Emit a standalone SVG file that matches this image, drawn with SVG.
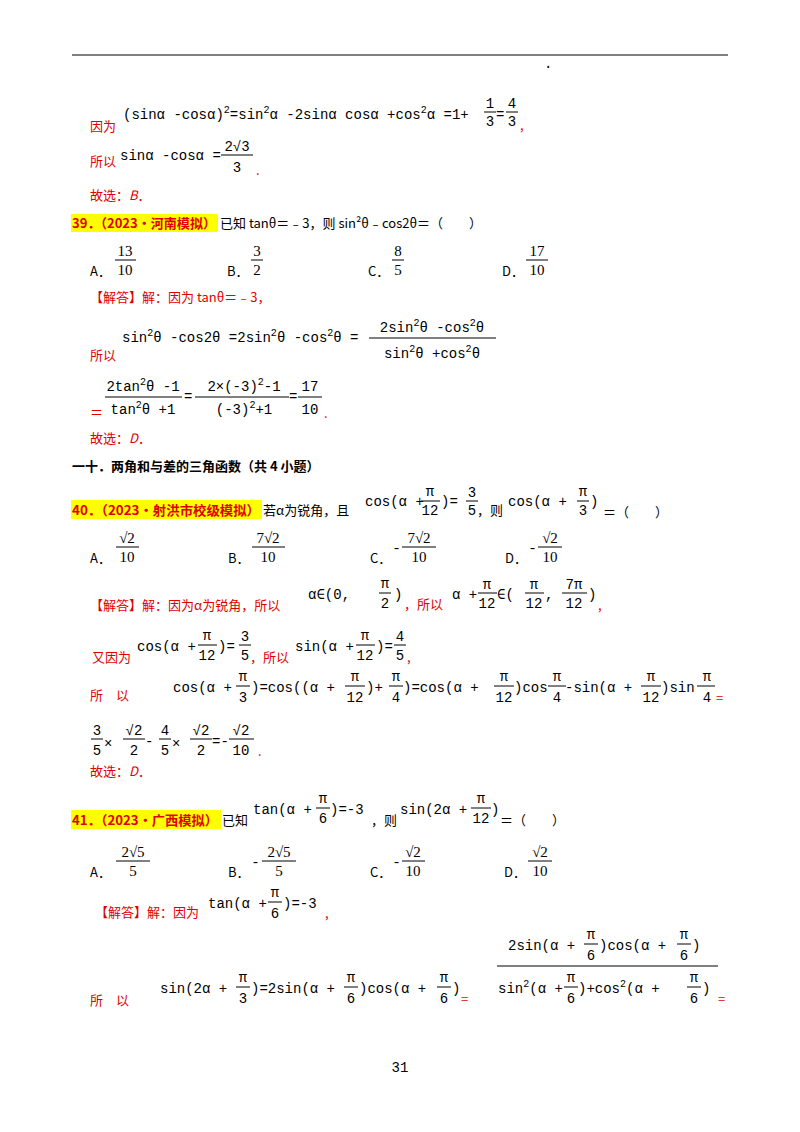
<svg xmlns="http://www.w3.org/2000/svg" width="800" height="1132" viewBox="0 0 800 1132">
<style>
.c{font-family:"Noto Sans CJK SC",sans-serif;font-size:13px;fill:#000}
.r{font-family:"Noto Sans CJK SC",sans-serif;font-size:13px;fill:#e00000}
.h{font-family:"Noto Sans CJK SC",sans-serif;font-size:13px;fill:#e00000;font-weight:bold}
.m{font-family:"Liberation Mono","DejaVu Sans Mono",monospace;font-size:14px;fill:#000}
.o{font-family:"Liberation Serif",serif;font-size:15px;fill:#000}
.s{font-size:10px}
.fl{stroke:#000;stroke-width:1}
.hl{fill:#ffff00}
</style>
<rect width="800" height="1132" fill="#fff"/>
<line x1="72" y1="55" x2="728" y2="55" stroke="#000" stroke-width="1.2"/>
<text x="544" y="68" class="m" font-size="6">.</text>

<g id="p1">
<text x="90" y="131" class="r">因为</text>
<text x="123" y="119" class="m">(sinα -cosα)<tspan class="s" dy="-6">2</tspan><tspan dy="6">=sin</tspan><tspan class="s" dy="-6">2</tspan><tspan dy="6">α -2sinα cosα +cos</tspan><tspan class="s" dy="-6">2</tspan><tspan dy="6">α =1+</tspan></text>
<text x="490" y="108" class="m" text-anchor="middle">1</text><line x1="484" y1="112" x2="496" y2="112" class="fl"/><text x="490" y="126" class="m" text-anchor="middle">3</text>
<text x="496" y="119" class="m">=</text>
<text x="512" y="108" class="m" text-anchor="middle">4</text><line x1="506" y1="112" x2="518" y2="112" class="fl"/><text x="512" y="126" class="m" text-anchor="middle">3</text>
<text x="520" y="130" class="r">,</text>
<text x="90" y="166" class="r">所以</text>
<text x="120" y="160" class="m">sinα -cosα =</text>
<text x="237" y="151" class="m" text-anchor="middle">2√3</text><line x1="221" y1="155" x2="253" y2="155" class="fl"/><text x="237" y="172" class="m" text-anchor="middle">3</text>
<text x="256" y="175" class="r">.</text>
<text x="90" y="200" class="r">故选：<tspan font-style="italic">B</tspan>．</text>
</g>

<g id="q39">
<rect x="71" y="214" width="147" height="18" class="hl"/>
<text x="72" y="228" class="h" textLength="144" lengthAdjust="spacingAndGlyphs">39．（2023•河南模拟）</text>
<text x="220" y="228" class="c" textLength="262" lengthAdjust="spacingAndGlyphs">已知 tanθ＝﹣3，则 sin²θ﹣cos2θ＝（　　）</text>
<text x="90" y="276" class="c">A．</text><text x="125" y="256" class="o" text-anchor="middle">13</text><line x1="115" y1="260" x2="136" y2="260" class="fl"/><text x="125" y="275" class="o" text-anchor="middle">10</text>
<text x="227" y="276" class="c">B．</text><text x="257" y="256" class="o" text-anchor="middle">3</text><line x1="251" y1="260" x2="263" y2="260" class="fl"/><text x="257" y="275" class="o" text-anchor="middle">2</text>
<text x="368" y="276" class="c">C．</text><text x="398" y="256" class="o" text-anchor="middle">8</text><line x1="392" y1="260" x2="404" y2="260" class="fl"/><text x="398" y="275" class="o" text-anchor="middle">5</text>
<text x="502" y="276" class="c">D．</text><text x="537" y="256" class="o" text-anchor="middle">17</text><line x1="526" y1="260" x2="548" y2="260" class="fl"/><text x="537" y="275" class="o" text-anchor="middle">10</text>
<text x="90" y="302" class="r">【解答】解：因为 tanθ＝﹣3，</text>
<text x="90" y="360" class="r">所以</text>
<text x="122" y="342" class="m">sin<tspan class="s" dy="-6">2</tspan><tspan dy="6">θ -cos2θ =2sin</tspan><tspan class="s" dy="-6">2</tspan><tspan dy="6">θ -cos</tspan><tspan class="s" dy="-6">2</tspan><tspan dy="6">θ =</tspan></text>
<text x="432" y="332" class="m" text-anchor="middle">2sin<tspan class="s" dy="-6">2</tspan><tspan dy="6">θ -cos</tspan><tspan class="s" dy="-6">2</tspan><tspan dy="6">θ</tspan></text>
<line x1="369" y1="338" x2="496" y2="338" class="fl"/>
<text x="432" y="358" class="m" text-anchor="middle">sin<tspan class="s" dy="-6">2</tspan><tspan dy="6">θ +cos</tspan><tspan class="s" dy="-6">2</tspan><tspan dy="6">θ</tspan></text>
<text x="90" y="417" class="r">＝</text>
<text x="143" y="391" class="m" text-anchor="middle">2tan<tspan class="s" dy="-6">2</tspan><tspan dy="6">θ -1</tspan></text>
<line x1="105" y1="397" x2="182" y2="397" class="fl"/>
<text x="143" y="414" class="m" text-anchor="middle">tan<tspan class="s" dy="-6">2</tspan><tspan dy="6">θ +1</tspan></text>
<text x="184" y="401" class="m">=</text>
<text x="244" y="391" class="m" text-anchor="middle">2×(-3)<tspan class="s" dy="-6">2</tspan><tspan dy="6">-1</tspan></text>
<line x1="195" y1="397" x2="289" y2="397" class="fl"/>
<text x="244" y="414" class="m" text-anchor="middle">(-3)<tspan class="s" dy="-6">2</tspan><tspan dy="6">+1</tspan></text>
<text x="289" y="401" class="m">=</text>
<text x="310" y="391" class="m" text-anchor="middle">17</text><line x1="298" y1="397" x2="322" y2="397" class="fl"/><text x="310" y="414" class="m" text-anchor="middle">10</text>
<text x="324" y="418" class="r">.</text>
<text x="90" y="443" class="r">故选：<tspan font-style="italic">D</tspan>．</text>
</g>

<text x="72" y="471" class="c" font-weight="bold">一十．两角和与差的三角函数（共 4 小题）</text>

<g id="q40">
<rect x="71" y="500" width="191" height="19" class="hl"/>
<text x="72" y="515" class="h" textLength="188" lengthAdjust="spacingAndGlyphs">40．（2023•射洪市校级模拟）</text>
<text x="263" y="515" class="c">若α为锐角，且</text>
<text x="365" y="506" class="m">cos(α +</text><text x="430" y="496" class="m" text-anchor="middle">π</text><line x1="421" y1="501" x2="440" y2="501" class="fl"/><text x="430" y="515" class="m" text-anchor="middle">12</text>
<text x="441" y="506" class="m">)=</text><text x="472" y="497" class="m" text-anchor="middle">3</text><line x1="466" y1="501" x2="478" y2="501" class="fl"/><text x="472" y="515" class="m" text-anchor="middle">5</text>
<text x="477" y="515" class="c">，则</text>
<text x="508" y="506" class="m">cos(α +</text><text x="583" y="496" class="m" text-anchor="middle">π</text><line x1="577" y1="501" x2="589" y2="501" class="fl"/><text x="583" y="515" class="m" text-anchor="middle">3</text>
<text x="590" y="506" class="m">)</text><text x="603" y="517" class="c">＝（　　）</text>
<text x="90" y="563" class="c">A．</text><text x="127" y="543" class="o" text-anchor="middle">√2</text><line x1="116" y1="547" x2="139" y2="547" class="fl"/><text x="127" y="562" class="o" text-anchor="middle">10</text>
<text x="228" y="563" class="c">B．</text><text x="268" y="543" class="o" text-anchor="middle">7√2</text><line x1="252" y1="547" x2="285" y2="547" class="fl"/><text x="268" y="562" class="o" text-anchor="middle">10</text>
<text x="370" y="563" class="c">C．</text><text x="394" y="552" class="o">-</text><text x="419" y="543" class="o" text-anchor="middle">7√2</text><line x1="402" y1="547" x2="436" y2="547" class="fl"/><text x="419" y="562" class="o" text-anchor="middle">10</text>
<text x="505" y="563" class="c">D．</text><text x="530" y="552" class="o">-</text><text x="550" y="543" class="o" text-anchor="middle">√2</text><line x1="538" y1="547" x2="562" y2="547" class="fl"/><text x="550" y="562" class="o" text-anchor="middle">10</text>
<text x="90" y="610" class="r">【解答】解：因为α为锐角，所以</text>
<text x="308" y="599" class="m">α∈(0,</text><text x="385" y="588" class="m" text-anchor="middle">π</text><line x1="379" y1="593" x2="391" y2="593" class="fl"/><text x="385" y="608" class="m" text-anchor="middle">2</text><text x="394" y="599" class="m">)</text>
<text x="404" y="609" class="r">，所以</text>
<text x="452" y="599" class="m">α +</text><text x="487" y="589" class="m" text-anchor="middle">π</text><line x1="478" y1="593" x2="497" y2="593" class="fl"/><text x="487" y="608" class="m" text-anchor="middle">12</text>
<text x="497" y="599" class="m">∈(</text><text x="534" y="589" class="m" text-anchor="middle">π</text><line x1="525" y1="593" x2="544" y2="593" class="fl"/><text x="534" y="608" class="m" text-anchor="middle">12</text>
<text x="545" y="599" class="m">,</text><text x="574" y="589" class="m" text-anchor="middle">7π</text><line x1="562" y1="593" x2="587" y2="593" class="fl"/><text x="574" y="608" class="m" text-anchor="middle">12</text>
<text x="588" y="599" class="m">)</text><text x="598" y="610" class="r">,</text>
<text x="92" y="662" class="r">又因为</text>
<text x="137" y="651" class="m">cos(α +</text><text x="207" y="640" class="m" text-anchor="middle">π</text><line x1="198" y1="645" x2="217" y2="645" class="fl"/><text x="207" y="660" class="m" text-anchor="middle">12</text>
<text x="218" y="651" class="m">)=</text><text x="245" y="641" class="m" text-anchor="middle">3</text><line x1="239" y1="645" x2="251" y2="645" class="fl"/><text x="245" y="660" class="m" text-anchor="middle">5</text>
<text x="250" y="662" class="r">，所以</text>
<text x="295" y="651" class="m">sin(α +</text><text x="365" y="640" class="m" text-anchor="middle">π</text><line x1="356" y1="645" x2="375" y2="645" class="fl"/><text x="365" y="660" class="m" text-anchor="middle">12</text>
<text x="376" y="651" class="m">)=</text><text x="400" y="641" class="m" text-anchor="middle">4</text><line x1="394" y1="645" x2="406" y2="645" class="fl"/><text x="400" y="660" class="m" text-anchor="middle">5</text>
<text x="407" y="662" class="r">,</text>
<text x="90" y="700" class="r">所　以</text>
<text x="173" y="692" class="m">cos(α +</text><text x="243" y="681" class="m" text-anchor="middle">π</text><line x1="236" y1="686" x2="250" y2="686" class="fl"/><text x="243" y="702" class="m" text-anchor="middle">3</text>
<text x="251" y="692" class="m">)=cos((α +</text><text x="355" y="681" class="m" text-anchor="middle">π</text><line x1="345" y1="686" x2="365" y2="686" class="fl"/><text x="355" y="702" class="m" text-anchor="middle">12</text>
<text x="366" y="692" class="m">)+</text><text x="396" y="681" class="m" text-anchor="middle">π</text><line x1="389" y1="686" x2="403" y2="686" class="fl"/><text x="396" y="702" class="m" text-anchor="middle">4</text>
<text x="403" y="692" class="m">)=cos(α +</text><text x="504" y="681" class="m" text-anchor="middle">π</text><line x1="494" y1="686" x2="514" y2="686" class="fl"/><text x="504" y="702" class="m" text-anchor="middle">12</text>
<text x="514" y="692" class="m">)cos</text><text x="557" y="681" class="m" text-anchor="middle">π</text><line x1="548" y1="686" x2="566" y2="686" class="fl"/><text x="557" y="702" class="m" text-anchor="middle">4</text>
<text x="565" y="692" class="m">-sin(α +</text><text x="651" y="681" class="m" text-anchor="middle">π</text><line x1="641" y1="686" x2="661" y2="686" class="fl"/><text x="651" y="702" class="m" text-anchor="middle">12</text>
<text x="661" y="692" class="m">)sin</text><text x="707" y="681" class="m" text-anchor="middle">π</text><line x1="697" y1="686" x2="715" y2="686" class="fl"/><text x="707" y="702" class="m" text-anchor="middle">4</text>
<text x="716" y="703" class="r">=</text>
<text x="97" y="735" class="m" text-anchor="middle">3</text><line x1="91" y1="739" x2="103" y2="739" class="fl"/><text x="97" y="755" class="m" text-anchor="middle">5</text>
<text x="104" y="748" class="m">×</text>
<text x="134" y="735" class="m" text-anchor="middle">√2</text><line x1="123" y1="739" x2="145" y2="739" class="fl"/><text x="134" y="755" class="m" text-anchor="middle">2</text>
<text x="145" y="746" class="m">-</text>
<text x="165" y="735" class="m" text-anchor="middle">4</text><line x1="159" y1="739" x2="171" y2="739" class="fl"/><text x="165" y="755" class="m" text-anchor="middle">5</text>
<text x="172" y="748" class="m">×</text>
<text x="201" y="735" class="m" text-anchor="middle">√2</text><line x1="190" y1="739" x2="212" y2="739" class="fl"/><text x="201" y="755" class="m" text-anchor="middle">2</text>
<text x="212" y="746" class="m">=-</text>
<text x="241" y="735" class="m" text-anchor="middle">√2</text><line x1="229" y1="739" x2="254" y2="739" class="fl"/><text x="241" y="755" class="m" text-anchor="middle">10</text>
<text x="258" y="756" class="r">.</text>
<text x="90" y="776" class="r">故选：<tspan font-style="italic">D</tspan>．</text>
</g>

<g id="q41">
<rect x="71" y="810" width="150" height="19" class="hl"/>
<text x="72" y="825" class="h" textLength="146" lengthAdjust="spacingAndGlyphs">41．（2023•广西模拟）</text>
<text x="222" y="825" class="c">已知</text>
<text x="253" y="814" class="m">tan(α +</text><text x="323" y="803" class="m" text-anchor="middle">π</text><line x1="316" y1="808" x2="330" y2="808" class="fl"/><text x="323" y="823" class="m" text-anchor="middle">6</text>
<text x="330" y="814" class="m">)=-3</text><text x="371" y="825" class="c">，则</text>
<text x="400" y="814" class="m">sin(2α +</text><text x="481" y="803" class="m" text-anchor="middle">π</text><line x1="471" y1="808" x2="491" y2="808" class="fl"/><text x="481" y="823" class="m" text-anchor="middle">12</text>
<text x="491" y="814" class="m">)</text><text x="500" y="825" class="c">＝（　　）</text>
<text x="90" y="877" class="c">A．</text><text x="133" y="857" class="o" text-anchor="middle">2√5</text><line x1="116" y1="861" x2="150" y2="861" class="fl"/><text x="133" y="876" class="o" text-anchor="middle">5</text>
<text x="228" y="877" class="c">B．</text><text x="253" y="866" class="o">-</text><text x="279" y="857" class="o" text-anchor="middle">2√5</text><line x1="262" y1="861" x2="296" y2="861" class="fl"/><text x="279" y="876" class="o" text-anchor="middle">5</text>
<text x="370" y="877" class="c">C．</text><text x="394" y="866" class="o">-</text><text x="413" y="857" class="o" text-anchor="middle">√2</text><line x1="402" y1="861" x2="425" y2="861" class="fl"/><text x="413" y="876" class="o" text-anchor="middle">10</text>
<text x="504" y="877" class="c">D．</text><text x="540" y="857" class="o" text-anchor="middle">√2</text><line x1="528" y1="861" x2="552" y2="861" class="fl"/><text x="540" y="876" class="o" text-anchor="middle">10</text>
<text x="95" y="917" class="r">【解答】解：因为</text>
<text x="208" y="908" class="m">tan(α +</text><text x="275" y="897" class="m" text-anchor="middle">π</text><line x1="268" y1="902" x2="282" y2="902" class="fl"/><text x="275" y="918" class="m" text-anchor="middle">6</text>
<text x="283" y="908" class="m">)=-3</text><text x="325" y="918" class="r">,</text>
<text x="90" y="1005" class="r">所　以</text>
<text x="160" y="993" class="m">sin(2α +</text><text x="243" y="982" class="m" text-anchor="middle">π</text><line x1="236" y1="987" x2="250" y2="987" class="fl"/><text x="243" y="1003" class="m" text-anchor="middle">3</text>
<text x="251" y="993" class="m">)=2sin(α +</text><text x="351" y="982" class="m" text-anchor="middle">π</text><line x1="344" y1="987" x2="358" y2="987" class="fl"/><text x="351" y="1003" class="m" text-anchor="middle">6</text>
<text x="359" y="993" class="m">)cos(α +</text><text x="444" y="982" class="m" text-anchor="middle">π</text><line x1="437" y1="987" x2="451" y2="987" class="fl"/><text x="444" y="1003" class="m" text-anchor="middle">6</text>
<text x="452" y="993" class="m">)</text><text x="461" y="1004" class="r">=</text>
<text x="508" y="950" class="m">2sin(α +</text><text x="591" y="939" class="m" text-anchor="middle">π</text><line x1="584" y1="944" x2="598" y2="944" class="fl"/><text x="591" y="960" class="m" text-anchor="middle">6</text>
<text x="599" y="950" class="m">)cos(α +</text><text x="684" y="939" class="m" text-anchor="middle">π</text><line x1="677" y1="944" x2="691" y2="944" class="fl"/><text x="684" y="960" class="m" text-anchor="middle">6</text><text x="692" y="950" class="m">)</text>
<line x1="497" y1="966" x2="718" y2="966" class="fl"/>
<text x="498" y="993" class="m">sin<tspan class="s" dy="-6">2</tspan><tspan dy="6">(α +</tspan></text><text x="571" y="982" class="m" text-anchor="middle">π</text><line x1="564" y1="987" x2="578" y2="987" class="fl"/><text x="571" y="1003" class="m" text-anchor="middle">6</text>
<text x="578" y="993" class="m">)+cos<tspan class="s" dy="-6">2</tspan><tspan dy="6">(α +</tspan></text><text x="694" y="982" class="m" text-anchor="middle">π</text><line x1="687" y1="987" x2="701" y2="987" class="fl"/><text x="694" y="1003" class="m" text-anchor="middle">6</text><text x="702" y="993" class="m">)</text>
<text x="718" y="1004" class="r">=</text>
</g>
<text x="400" y="1072" class="m" font-size="11" text-anchor="middle">31</text>
</svg>
